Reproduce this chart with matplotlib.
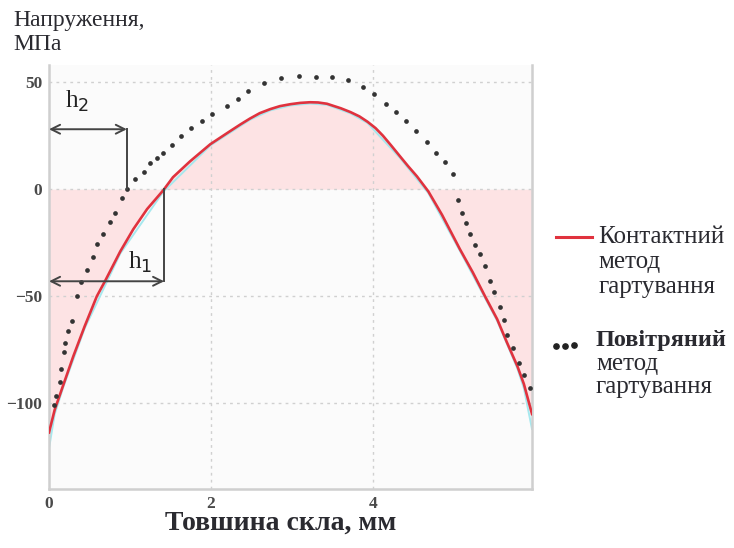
import numpy as np
import matplotlib
matplotlib.use('Agg')
from matplotlib import pyplot as plt
from matplotlib.lines import Line2D

# contact tempering (solid red curve)
contact_x = [0.0, 0.07, 0.18, 0.30, 0.44, 0.59, 0.69, 0.88, 1.04, 1.21, 1.41,
             1.53, 1.74, 1.99, 2.23, 2.36, 2.48, 2.60, 2.73, 2.85, 2.98, 3.10,
             3.22, 3.32, 3.43, 3.51, 3.60, 3.72, 3.83, 3.93, 4.03, 4.12, 4.22,
             4.33, 4.43, 4.54, 4.68, 4.85, 5.07, 5.23, 5.38, 5.53, 5.65, 5.78,
             5.86, 5.96]
contact_y = [-113.6, -103, -91, -78, -64, -50, -43, -29, -18.7, -9.3, -0.5,
             5.6, 13, 21, 27, 30.2, 33, 35.5, 37.4, 38.8, 39.7, 40.3,
             40.6, 40.5, 39.9, 38.9, 37.8, 36.0, 34.0, 31.5, 28.5, 25.0, 20.5,
             15.4, 10.8, 6, -1, -12, -28, -38.9, -50, -60.7, -71.5, -82.7,
             -91, -105]

# thin cyan trace lying under the red curve, a bit longer at both ends
cyan_x = [0.0, 0.07, 0.18, 0.44, 0.88, 1.41, 1.99, 2.48, 2.73, 2.98, 3.22,
          3.43, 3.72, 3.93, 4.33, 4.68, 5.07, 5.53, 5.78, 5.86, 5.96]
cyan_y = [-121, -105, -92, -65, -30, -1.2, 20.4, 32.4, 36.8, 39.1, 40.0,
          39.4, 35.4, 30.9, 14.6, -1.8, -28.8, -61.5, -83.8, -93, -112]

# air tempering (dotted curve)
air_x = [0.06, 0.09, 0.13, 0.15, 0.18, 0.20, 0.24, 0.28, 0.34, 0.40, 0.47,
         0.54, 0.59, 0.67, 0.75, 0.81, 0.90, 0.96, 1.06, 1.17, 1.25, 1.33,
         1.41, 1.52, 1.63, 1.75, 1.89, 2.01, 2.20, 2.33, 2.46, 2.65, 2.86,
         3.09, 3.30, 3.49, 3.69, 3.88, 4.01, 4.16, 4.28, 4.40, 4.53, 4.67,
         4.78, 4.89, 4.98, 5.05, 5.10, 5.15, 5.20, 5.26, 5.32, 5.38, 5.44,
         5.49, 5.56, 5.62, 5.65, 5.73, 5.80, 5.86, 5.94]
air_y = [-101, -96.7, -90, -84, -76, -72, -66, -61.7, -50, -43.5, -37.9,
         -31.8, -25.7, -21, -15.5, -10.9, -3.9, 0, 4.7, 8, 12, 14.5,
         16.8, 20.6, 24.8, 28.5, 31.8, 35, 38.8, 42, 45.8, 49.5, 52,
         52.8, 52.4, 52.4, 51, 47.6, 44.4, 40, 36, 31.8, 27, 22,
         17, 12.6, 7, -5, -11, -16, -21, -26, -30.4, -36, -43,
         -48, -55, -61, -68, -74, -81, -87, -93]

# h1 / h2 depth marks: (zero crossing, arrow level)
h1 = (1.42, -43)
h2 = (0.96, 28)

xticks = [0, 2, 4]
yticks = [50, 0, -50, -100]

serif = 'Liberation Serif'
txt_col = '#2a2a30'

fig = plt.figure(figsize=(7.34, 5.48), dpi=100)
ax = fig.add_axes([0.0668, 0.1077, 0.6580, 0.7737])
ax.set_facecolor('#fbfbfb')

ax.fill_between(contact_x, contact_y, 0, color='#fde3e4', lw=0, zorder=1)

for y in yticks:
    ax.axhline(y, color='#d0d0d0', ls=(0, (2, 3)), lw=1.0, zorder=1.5)
for x in xticks[1:]:
    ax.axvline(x, color='#d0d0d0', ls=(0, (2, 3)), lw=1.0, zorder=1.5)

ax.plot(cyan_x, cyan_y, color='#a6e8ee', lw=1.4, zorder=2)
ax.plot(contact_x, contact_y, color='#e0323e', lw=1.9, zorder=3)
ax.plot(air_x, air_y, ls='none', marker='o', ms=3.4, color='#333333',
        markeredgewidth=0, zorder=4)

# depth arrows
arr = dict(arrowstyle='<->', color='#444444', lw=1.4, mutation_scale=16,
           shrinkA=0, shrinkB=0)
ax.annotate('', xy=(0.0, h2[1]), xytext=(h2[0], h2[1]), arrowprops=arr, zorder=5)
ax.plot([h2[0], h2[0]], [0, h2[1]], color='#444444', lw=1.4, zorder=5)
ax.annotate('', xy=(0.0, h1[1]), xytext=(h1[0], h1[1]), arrowprops=arr, zorder=5)
ax.plot([h1[0], h1[0]], [0, h1[1]], color='#444444', lw=1.4, zorder=5)
ax.text(0.2, 38, r'h$_2$', family=serif, fontsize=18, color='#222222')
ax.text(0.97, -37, r'h$_1$', family=serif, fontsize=18, color='#222222')

ax.set_xlim(0, 5.96)
ax.set_ylim(-140, 58)
ax.set_xticks(xticks)
ax.set_yticks(yticks)
ax.tick_params(length=0, labelsize=12.5, colors='#4a4a4a', pad=5)
for lab in ax.get_xticklabels() + ax.get_yticklabels():
    lab.set_family(serif)
    lab.set_fontweight('bold')

for side in ['left', 'bottom', 'right']:
    ax.spines[side].set_color('#cfcfcf')
    ax.spines[side].set_linewidth(1.8)
ax.spines['top'].set_visible(False)

fig.text(0.018, 0.982, 'Напруження,\nМПа', family=serif, fontsize=17,
         color=txt_col, va='top', ha='left', linespacing=1.2)
fig.text(0.383, 0.045, 'Товшина скла, мм', family=serif, fontsize=20,
         fontweight='bold', color=txt_col, ha='center', va='center')

# legend drawn by hand to the right of the axes
fig.add_artist(Line2D([0.757, 0.806], [0.567, 0.567], color='#e0323e', lw=2.2))
fig.text(0.815, 0.588, 'Контактний\nметод\nгартування', family=serif,
         fontsize=18, color=txt_col, va='top', ha='left', linespacing=1.17)
fig.add_artist(Line2D([0.758, 0.770, 0.782], [0.368, 0.368, 0.370], ls='none',
                      marker='o', ms=3.8, color='#222222'))
fig.text(0.812, 0.397, 'Повітряний', family=serif, fontsize=17.5,
         fontweight='bold', color=txt_col, va='top', ha='left')
fig.text(0.812, 0.356, 'метод\nгартування', family=serif, fontsize=18,
         color=txt_col, va='top', ha='left', linespacing=1.05)

fig.savefig('out.png', dpi=100)
